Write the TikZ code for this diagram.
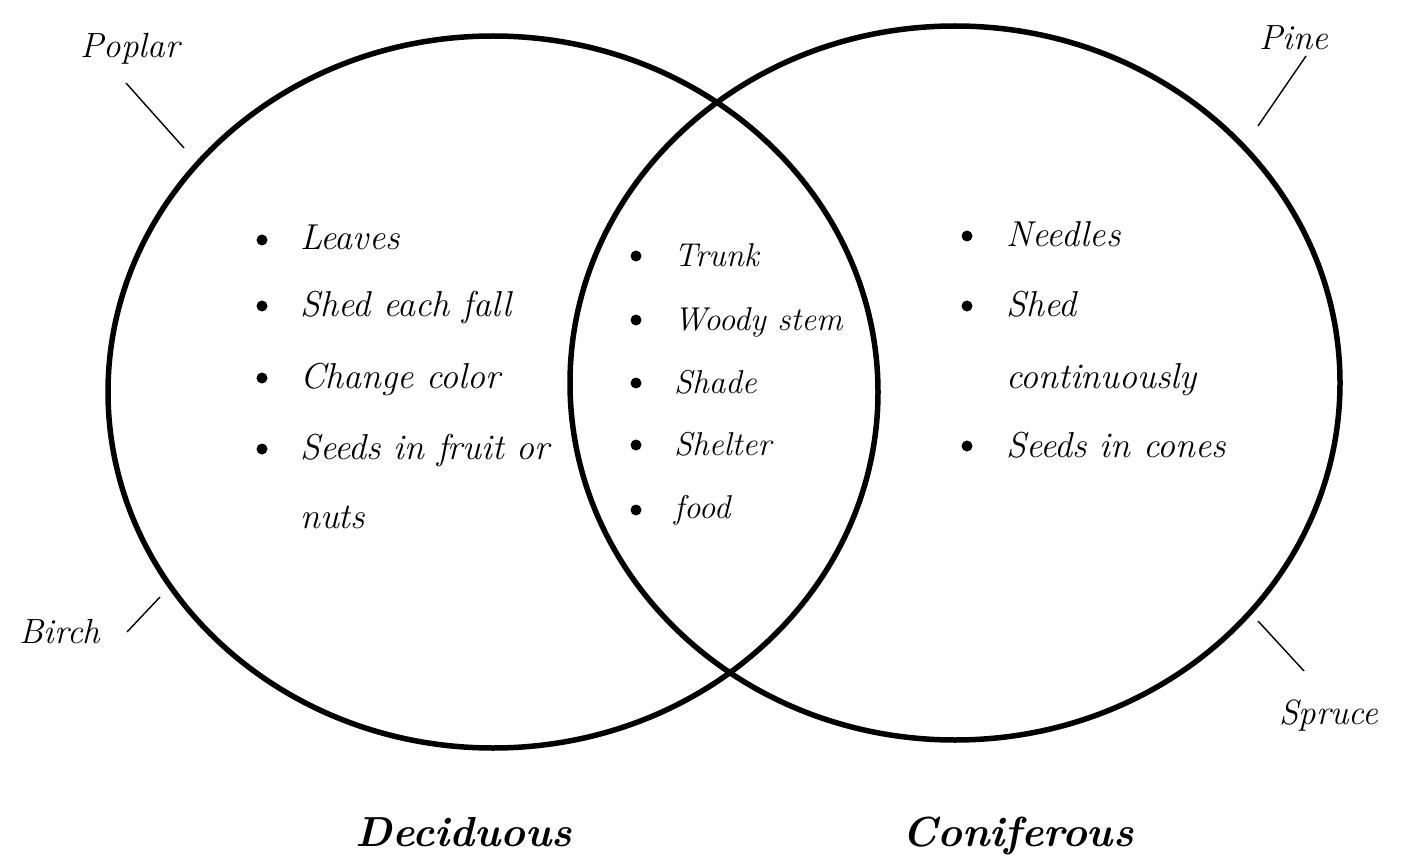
\documentclass[tikz,border=0pt]{standalone}
\begin{document}
\begin{tikzpicture}[x=1pt,y=-1pt,
  ring/.style={draw=black,line width=5.5pt},
  tick/.style={draw=black,line width=1.4pt},
  itemtext/.style={anchor=base west,inner sep=0pt,font=\fontsize{36}{36}\selectfont\itshape},
  midtext/.style={anchor=base west,inner sep=0pt,font=\fontsize{33}{33}\selectfont\itshape},
  dot/.style={circle,fill=black,inner sep=0pt,minimum size=11pt},
  treename/.style={anchor=base,inner sep=0pt,font=\fontsize{35}{35}\selectfont\itshape},
  title/.style={anchor=base,inner sep=0pt,font=\fontsize{42}{42}\selectfont\bfseries\itshape}]
\useasboundingbox (0,0) rectangle (1403,861);
% circles
\draw[ring] (493,392) ellipse [x radius=385, y radius=356];
\draw[ring] (955,383) ellipse [x radius=385, y radius=357];
% left list
\node[dot] (ld1) at (262,240) {};
\node[itemtext] (l1) at (300,250) {Leaves};
\node[dot] (ld2) at (262,306) {};
\node[itemtext] (l2) at (300,316) {Shed each fall};
\node[dot] (ld3) at (262,378) {};
\node[itemtext] (l3) at (300,388) {Change color};
\node[dot] (ld4) at (262,449) {};
\node[itemtext] (l4) at (300,459) {Seeds in fruit or};
\node[itemtext] (l5) at (300,528) {nuts};
% middle list
\node[dot] (md1) at (636,256) {};
\node[midtext] (m1) at (674,266) {Trunk};
\node[dot] (md2) at (636,320) {};
\node[midtext] (m2) at (674,330) {Woody stem};
\node[dot] (md3) at (636,383) {};
\node[midtext] (m3) at (674,393) {Shade};
\node[dot] (md4) at (636,445) {};
\node[midtext] (m4) at (674,455) {Shelter};
\node[dot] (md5) at (636,510) {};
\node[midtext] (m5) at (674,518) {food};
% right list
\node[dot] (rd1) at (967,236) {};
\node[itemtext] (r1) at (1006,247) {Needles};
\node[dot] (rd2) at (967,306) {};
\node[itemtext] (r2) at (1006,316) {Shed};
\node[itemtext] (r3) at (1006,388) {continuously};
\node[dot] (rd3) at (967,446) {};
\node[itemtext] (r4) at (1006,457) {Seeds in cones};
% tree names and ticks
\node[treename] (poplar) at (130,58) {Poplar};
\coordinate (pa) at (126,83); \coordinate (pb) at (184,148);
\draw[tick] (pa) -- (pb);
\node[treename] (pine) at (1294,50) {Pine};
\coordinate (pia) at (1306,56); \coordinate (pib) at (1258,126);
\draw[tick] (pia) -- (pib);
\node[treename] (birch) at (60,643) {Birch};
\coordinate (ba) at (127,632); \coordinate (bb) at (160,597);
\draw[tick] (ba) -- (bb);
\node[treename] (spruce) at (1329,724) {Spruce};
\coordinate (sa) at (1258,621); \coordinate (sb) at (1304,671);
\draw[tick] (sa) -- (sb);
% titles
\node[title] (dec) at (464,846) {Deciduous};
\node[title] (con) at (1018,846) {Coniferous};
\end{tikzpicture}
\end{document}
